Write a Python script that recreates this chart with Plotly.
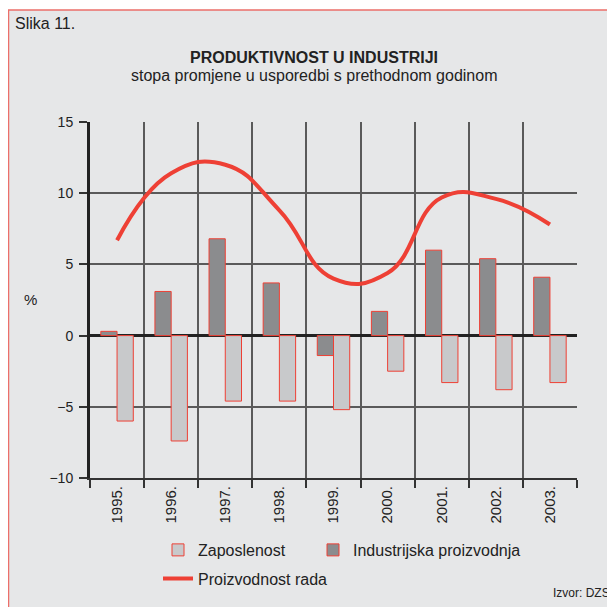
import plotly.graph_objects as go

years = ["1995.", "1996.", "1997.", "1998.", "1999.", "2000.", "2001.", "2002.", "2003."]
zaposlenost = [-6.0, -7.4, -4.6, -4.6, -5.2, -2.5, -3.3, -3.8, -3.3]
industrija = [0.3, 3.1, 6.8, 3.7, -1.4, 1.7, 6.0, 5.4, 4.1]
proizvodnost = [6.7, 11.4, 12.0, 8.8, 4.0, 4.4, 9.7, 9.6, 7.8]

RED = "#ee4035"
BG = "#e6e7e8"
FONT = "Liberation Sans, Arial, sans-serif"

fig = go.Figure()
fig.add_trace(go.Bar(
    x=years, y=industrija, name="Industrijska proizvodnja",
    marker=dict(color="#8b8c8e", line=dict(color=RED, width=1)),
    legend="legend3",
))
fig.add_trace(go.Bar(
    x=years, y=zaposlenost, name="Zaposlenost",
    marker=dict(color="#c8c9cb", line=dict(color=RED, width=1)),
    legend="legend",
))
fig.add_trace(go.Scatter(
    x=years, y=proizvodnost, name="Proizvodnost rada", mode="lines",
    line=dict(color=RED, width=4, shape="spline", smoothing=1.3),
    legend="legend2",
))

# page has an 8px body margin; positions below are given in reference-page pixels
# plot area in reference pixels: x 90..577, y 122..483
def px(x):
    return (x - 90) / 487

def py(y):
    return (483 - y) / 361

fig.add_shape(type="rect", xref="paper", yref="paper",
              x0=px(8.5), x1=px(640), y0=py(8.5), y1=py(640),
              fillcolor=BG, line=dict(color="#ec6f6a", width=1.5), layer="below")

fig.add_annotation(text="Slika 11.", xref="paper", yref="paper", x=px(13), y=py(22),
                   xanchor="left", yanchor="middle", showarrow=False,
                   font=dict(size=16, color="#222"))
fig.add_annotation(text="<b>PRODUKTIVNOST U INDUSTRIJI</b>", xref="paper", yref="paper",
                   x=px(314), y=py(57), xanchor="center", yanchor="middle", showarrow=False,
                   font=dict(size=16, color="#222"))
fig.add_annotation(text="stopa promjene u usporedbi s prethodnom godinom", xref="paper", yref="paper",
                   x=px(314), y=py(75), xanchor="center", yanchor="middle", showarrow=False,
                   font=dict(size=16, color="#222"))
fig.add_annotation(text="%", xref="paper", yref="paper", x=px(30), y=py(302),
                   xanchor="center", yanchor="middle", showarrow=False,
                   font=dict(size=15, color="#222"))
fig.add_annotation(text="Izvor: DZS", xref="paper", yref="paper", x=px(612), y=py(600),
                   xanchor="right", yanchor="middle", showarrow=False,
                   font=dict(size=12, color="#222"))

legend_style = dict(orientation="h", xanchor="left", yanchor="middle",
                    bgcolor="rgba(0,0,0,0)", font=dict(size=16))
fig.update_layout(
    width=607, height=599,
    margin=dict(l=82, r=38, t=114, b=124),
    paper_bgcolor="white", plot_bgcolor="rgba(0,0,0,0)",
    font=dict(family=FONT, color="#222", size=13),
    barmode="group", bargap=0.4, bargroupgap=0,
    showlegend=True,
    legend=dict(x=px(158), y=py(556), **legend_style),
    legend3=dict(x=px(313), y=py(556), **legend_style),
    legend2=dict(x=px(158), y=py(585), **legend_style),
)
fig.update_xaxes(
    type="category", tickson="boundaries", ticks="outside", ticklen=8, tickwidth=1.5,
    tickcolor="#333", tickangle=-90, showgrid=True, gridcolor="#5a5a5a", gridwidth=1.5,
    showline=True, linecolor="#333", linewidth=2, tickfont=dict(size=15),
)
fig.update_yaxes(
    range=[-10, 15], dtick=5, ticks="outside", ticklen=8, tickwidth=1.5, tickcolor="#333",
    showgrid=True, gridcolor="#5a5a5a", gridwidth=1.5, ticklabelstandoff=3,
    zeroline=True, zerolinecolor="#222", zerolinewidth=3,
    showline=True, linecolor="#222", linewidth=3, tickfont=dict(size=14),
)

fig.write_html("out.html")
